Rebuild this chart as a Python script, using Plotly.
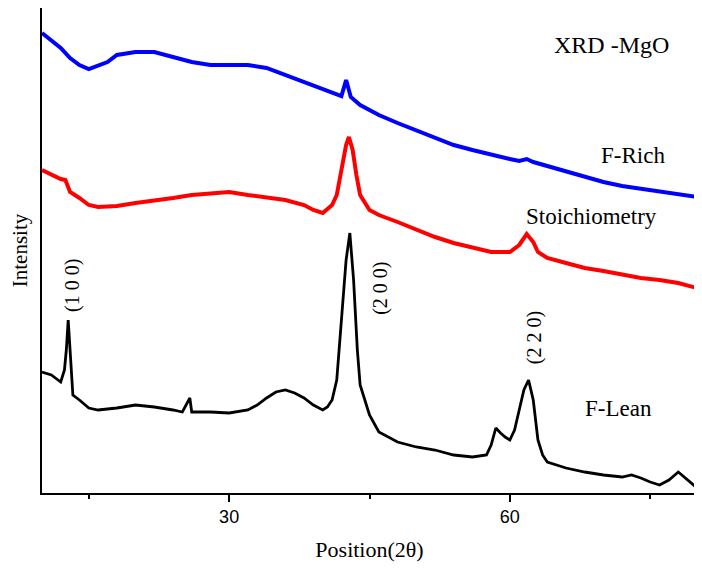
import plotly.graph_objects as go

# 2-theta positions (degrees) and estimated intensities (arbitrary units)
rich_x = [10, 11, 12, 13, 14, 15, 16, 17, 18, 20, 22, 24, 26, 28, 30, 32, 34, 36, 38, 40,
          41.5, 42, 42.5, 43, 44, 46, 48, 50, 52, 54, 56, 58, 60, 61, 61.8, 62.5, 64, 66, 68,
          70, 72, 74, 76, 78, 80]
rich_y = [460, 452, 445, 435, 428, 424, 427, 431, 438, 441, 441, 436, 431, 428, 428, 428, 425, 418, 411, 403,
          398, 397, 413, 396, 388, 378, 370, 363, 356, 348, 343, 338, 334, 332, 334, 331, 327, 321, 316,
          311, 307, 304, 301, 298, 296]

stoi_x = [10, 11, 12, 12.5, 13, 14, 15, 16, 18, 20, 22, 24, 26, 28, 30, 32, 34, 36, 38, 39, 40,
          41, 41.5, 42, 42.5, 42.8, 43.2, 43.6, 44, 45, 46, 48, 50, 52, 54, 56, 58, 60, 61, 61.8,
          62.5, 63, 64, 66, 68, 70, 72, 74, 76, 78, 80]
stoi_y = [323, 318, 314, 313, 301, 295, 288, 286, 287, 290, 292, 295, 298, 300, 301, 298, 296, 293, 288, 283, 280,
          288, 298, 323, 348, 356, 343, 318, 298, 283, 278, 271, 263, 256, 250, 245, 241, 241, 248, 259,
          251, 241, 235, 230, 225, 222, 218, 215, 213, 210, 205]

lean_x = [10, 11, 12, 12.4, 12.6, 12.8, 13.0, 13.3, 14, 15, 16, 18, 20, 22, 24, 25, 25.8, 26, 28, 30,
          32, 33, 34, 35, 36, 37, 38, 39, 40, 40.5, 41, 41.5, 42, 42.5, 42.9, 43.3, 43.7, 44, 45, 46,
          48, 50, 52, 54, 56, 57.5, 58, 58.5, 59, 59.5, 60, 60.5, 61, 61.5, 62, 62.5, 63, 63.5, 64,
          66, 68, 70, 72, 73, 74, 75, 76, 77, 78, 79, 80]
lean_y = [121, 118, 111, 123, 143, 173, 143, 98, 93, 85, 83, 85, 88, 86, 83, 81, 95, 81, 81, 80,
          83, 88, 95, 101, 103, 100, 95, 88, 83, 86, 93, 113, 173, 233, 260, 213, 143, 108, 78, 61,
          51, 46, 43, 38, 36, 38, 48, 65, 60, 56, 53, 63, 83, 103, 113, 93, 53, 38, 31,
          25, 21, 18, 16, 18, 15, 11, 8, 13, 21, 13, 5]

x_tickvals = [30, 60]
x_ticktext = ["30", "60"]
x_minor_tickvals = [15, 45, 75]

serif = "Liberation Serif"

fig = go.Figure()
fig.add_trace(go.Scatter(x=lean_x, y=lean_y, mode="lines", line=dict(color="black", width=2.8), showlegend=False))
fig.add_trace(go.Scatter(x=stoi_x, y=stoi_y, mode="lines", line=dict(color="red", width=4), showlegend=False))
fig.add_trace(go.Scatter(x=rich_x, y=rich_y, mode="lines", line=dict(color="blue", width=4), showlegend=False))

def txt(x, y, s, angle=0, size=23):
    fig.add_annotation(x=x, y=y, xref="x", yref="y", text=s, showarrow=False, textangle=angle,
                       font=dict(family=serif, size=size, color="black"))

txt(70.9, 448, "XRD -MgO", size=24)
txt(73.2, 338, "F-Rich")
txt(68.7, 277, "Stoichiometry")
txt(71.6, 85, "F-Lean")
txt(13.2, 208, "(1 0 0)", angle=-90, size=20)
txt(46.1, 205, "(2 0 0)", angle=-90, size=20)
txt(62.6, 155, "(2 2 0)", angle=-90, size=20)

# the page body has an 8px default margin, so the figure is sized to fit the 702x571 window
fig.update_layout(
    width=694, height=563,
    margin=dict(l=34, r=5, t=0, b=78),
    plot_bgcolor="white", paper_bgcolor="white",
    xaxis=dict(range=[10, 80], tickvals=x_tickvals, ticktext=x_ticktext, ticks="outside", ticklen=7,
               tickwidth=1.5, tickcolor="black", showline=True, linecolor="black", linewidth=1.5,
               minor=dict(tickvals=x_minor_tickvals, ticks="outside", ticklen=4, tickwidth=1.5,
                          tickcolor="black", showgrid=False),
               mirror=True, showgrid=False, zeroline=False, automargin=False,
               tickfont=dict(family="Liberation Sans", size=18, color="black"),
               title=dict(text="Position(2θ)", font=dict(family=serif, size=22, color="black"), standoff=15)),
    yaxis=dict(range=[0, 485], showticklabels=False, ticks="", showline=True, linecolor="black",
               linewidth=1.5, mirror=True, showgrid=False, zeroline=False, automargin=False,
               title=dict(text="Intensity", font=dict(family=serif, size=21, color="black"), standoff=8)),
)

fig.write_html("out.html")
